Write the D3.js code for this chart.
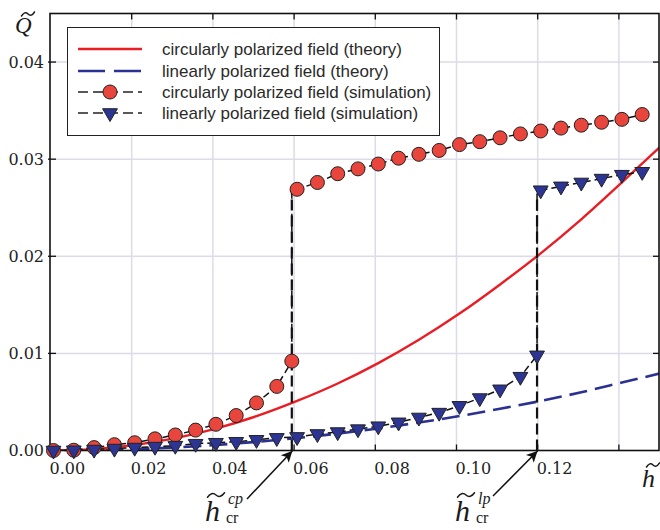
<!DOCTYPE html>
<html>
<head>
<meta charset="utf-8">
<script src="https://cdn.jsdelivr.net/npm/d3@7/dist/d3.min.js"></script>
<style>
  body { margin: 0; background: #fff; }
  svg { display: block; }
</style>
</head>
<body>
<div id="chart"></div>
<script>
//DATA
var simH = [0, 0.005, 0.010, 0.015, 0.020, 0.025, 0.030, 0.035, 0.040, 0.045,
            0.050, 0.055, 0.060, 0.065, 0.070, 0.075, 0.080, 0.085, 0.090, 0.095,
            0.100, 0.105, 0.110, 0.115, 0.120, 0.125, 0.130, 0.135, 0.140, 0.145];

//circularly polarized, simulation (below and above the jump)
var cpLowQ  = [0, 0.00003, 0.0003, 0.0006, 0.0008, 0.0012, 0.0016, 0.0021, 0.0027, 0.0036, 0.0049, 0.0066];
var cpHighQ = [0.0269, 0.0276, 0.0285, 0.0290, 0.0295, 0.0301, 0.0305, 0.0309, 0.0315,
               0.0318, 0.0322, 0.0326, 0.0329, 0.0332, 0.0335, 0.0338, 0.0341, 0.0346];
var cpCrit  = [0.0587, 0.0092, 0.0265];   // h_cr, Q below, Q above

//linearly polarized, simulation
var lpLowQ  = [0, 0.00002, 0.0001, 0.0002, 0.0003, 0.0004, 0.0005, 0.0007, 0.0008, 0.0009,
               0.0011, 0.0013, 0.0014, 0.0017, 0.0019, 0.0022, 0.0025, 0.0029, 0.0034, 0.0039,
               0.0046, 0.0054, 0.0063, 0.0076];
var lpHighQ = [0.0268, 0.0272, 0.0276, 0.0280, 0.0284, 0.0287];
var lpCrit  = [0.1191, 0.0098, 0.0264];

//theory curves
var theoryH   = [0, 0.01, 0.02, 0.03, 0.04, 0.05, 0.06, 0.07, 0.08, 0.09, 0.10, 0.11, 0.12, 0.13, 0.14, 0.15];
var cpTheoryQ = [0, 0.00014, 0.00056, 0.00127, 0.00226, 0.00353, 0.0051, 0.0069, 0.0090, 0.0114,
                 0.0141, 0.0171, 0.0203, 0.0238, 0.0276, 0.0315];
var lpTheoryQ = [0, 0.00004, 0.00014, 0.00032, 0.00057, 0.00089, 0.00128, 0.00174, 0.00227, 0.00288,
                 0.00355, 0.0043, 0.0051, 0.0060, 0.0070, 0.0080];

var xTicks = [0, 0.02, 0.04, 0.06, 0.08, 0.10, 0.12, 0.14];
var xTickLabels = ['0.00', '0.02', '0.04', '0.06', '0.08', '0.10', '0.12', ''];
var yTicks = [0, 0.01, 0.02, 0.03, 0.04];
var yTickLabels = ['0.00', '0.01', '0.02', '0.03', '0.04'];

var legendLabels = ['circularly polarized field (theory)',
                    'linearly polarized field (theory)',
                    'circularly polarized field (simulation)',
                    'linearly polarized field (simulation)'];

(function(){

//SET UP
var width = 660,
    height = 530;

var plotLeft = 50, plotRight = 659, plotTop = 13.5, plotBottom = 450.5;

var serif = 'Times New Roman, Liberation Serif, DejaVu Serif, serif',
    tickFont = 'DejaVu Serif, Liberation Serif, serif',
    sans = 'Liberation Sans, Arial, sans-serif';

var red = '#ea1c24',
    blue = '#2b3192',
    dotRed = '#e8453c',
    triBlue = '#2c3594',
    gridColor = '#dcdbe8';

//grid in the original sits a few px left of the data positions
var gridShift = -3;

var svg = d3.select('#chart').append('svg')
    .attr('width', width)
    .attr('height', height);

var x = d3.scaleLinear()
    .domain([-0.00086, 0.14914])
    .range([plotLeft, plotRight]);

var y = d3.scaleLinear()
    .domain([0, 0.045])
    .range([plotBottom, plotTop]);

svg.append('clipPath').attr('id', 'plot-clip')
  .append('rect')
    .attr('x', plotLeft).attr('y', plotTop)
    .attr('width', plotRight - plotLeft).attr('height', plotBottom - plotTop);

//GRID
svg.append('g').selectAll('line')
    .data(xTicks.slice(1))
  .enter().append('line')
    .attr('x1', function(d){ return x(d) + gridShift; })
    .attr('x2', function(d){ return x(d) + gridShift; })
    .attr('y1', plotTop).attr('y2', plotBottom)
    .style('stroke', gridColor).style('stroke-width', 1.5);

svg.append('g').selectAll('line')
    .data(yTicks.slice(1))
  .enter().append('line')
    .attr('x1', plotLeft).attr('x2', plotRight)
    .attr('y1', function(d){ return y(d); })
    .attr('y2', function(d){ return y(d); })
    .style('stroke', gridColor).style('stroke-width', 1.5);

//THEORY CURVES
var theoryLine = d3.line()
    .x(function(d){ return x(d[0]); })
    .y(function(d){ return y(d[1]); })
    .curve(d3.curveMonotoneX);

svg.append('path')
    .datum(d3.zip(theoryH, lpTheoryQ))
    .attr('clip-path', 'url(#plot-clip)')
    .attr('d', theoryLine)
    .style('fill', 'none').style('stroke', blue)
    .style('stroke-width', 2.6).style('stroke-dasharray', '18,8');

svg.append('path')
    .datum(d3.zip(theoryH, cpTheoryQ))
    .attr('clip-path', 'url(#plot-clip)')
    .attr('d', theoryLine)
    .style('fill', 'none').style('stroke', red)
    .style('stroke-width', 2.4);

//FRAME + TICKS
svg.append('rect')
    .attr('x', plotLeft).attr('y', plotTop)
    .attr('width', plotRight - plotLeft).attr('height', plotBottom - plotTop)
    .style('fill', 'none').style('stroke', '#111').style('stroke-width', 1.6);

var tickLen = 6;
var ticksG = svg.append('g').style('stroke', '#111').style('stroke-width', 1.3);

xTicks.slice(1).forEach(function(t){
  var px = x(t) + gridShift;
  ticksG.append('line').attr('x1', px).attr('x2', px).attr('y1', plotBottom).attr('y2', plotBottom - tickLen);
  ticksG.append('line').attr('x1', px).attr('x2', px).attr('y1', plotTop).attr('y2', plotTop + tickLen);
});
yTicks.slice(1).forEach(function(t){
  var py = y(t);
  ticksG.append('line').attr('x1', plotLeft - 2).attr('x2', plotLeft + tickLen).attr('y1', py).attr('y2', py);
  ticksG.append('line').attr('x1', plotRight).attr('x2', plotRight - tickLen).attr('y1', py).attr('y2', py);
});

//tick labels (left aligned at the grid line, like the original)
svg.append('g').selectAll('text')
    .data(xTicks)
  .enter().append('text')
    .attr('x', function(d){ return x(d) + gridShift - 1; })
    .attr('y', 474)
    .attr('font-family', tickFont).attr('font-size', 16).attr('fill', '#222')
    .text(function(d, i){ return xTickLabels[i]; });

svg.append('g').selectAll('text')
    .data(yTicks)
  .enter().append('text')
    .attr('text-anchor', 'end')
    .attr('x', 44)
    .attr('y', function(d){ return y(d) + 5.5; })
    .attr('font-family', tickFont).attr('font-size', 16).attr('fill', '#222')
    .text(function(d, i){ return yTickLabels[i]; });

//SIMULATION LINES
var simLine = d3.line()
    .x(function(d){ return x(d[0]); })
    .y(function(d){ return y(d[1]); });

function simPoints(lowQ, highQ, crit) {
  var low = d3.zip(simH.slice(0, lowQ.length), lowQ);
  var high = d3.zip(simH.slice(simH.length - highQ.length), highQ);
  return { low: low, high: high,
           all: low.concat([[crit[0], crit[1]], [crit[0], crit[2]]]).concat(high),
           crit: [crit[0], crit[1]] };
}

var cp = simPoints(cpLowQ, cpHighQ, cpCrit),
    lp = simPoints(lpLowQ, lpHighQ, lpCrit);

[cp, lp].forEach(function(s){
  svg.append('path')
      .datum(s.all)
      .attr('d', simLine)
      .style('fill', 'none').style('stroke', '#111')
      .style('stroke-width', 1.5).style('stroke-dasharray', '7,4');
});

//vertical dashed lines at the critical field
[cpCrit, lpCrit].forEach(function(c){
  svg.append('line')
      .attr('x1', x(c[0])).attr('x2', x(c[0]))
      .attr('y1', y(0)).attr('y2', y(c[2]))
      .style('stroke', '#111').style('stroke-width', 2.2)
      .style('stroke-dasharray', '11,5');
});

//MARKERS
var triangle = d3.symbol().type(d3.symbolTriangle).size(95);

var markers = svg.append('g');
markers.append('g').selectAll('circle')
    .data(cp.low.concat([cp.crit]).concat(cp.high))
  .enter().append('circle')
    .attr('cx', function(d){ return x(d[0]); })
    .attr('cy', function(d){ return y(d[1]); })
    .attr('r', 7)
    .style('fill', dotRed).style('stroke', '#222').style('stroke-width', 1);

markers.append('g').selectAll('path')
    .data(lp.low.concat([lp.crit]).concat(lp.high))
  .enter().append('path')
    .attr('d', triangle)
    .attr('transform', function(d){ return 'translate(' + x(d[0]) + ',' + y(d[1]) + ') rotate(180)'; })
    .style('fill', triBlue).style('stroke', '#222').style('stroke-width', 1);

//LEGEND
var legend = svg.append('g');
legend.append('rect')
    .attr('x', 67.5).attr('y', 27.5)
    .attr('width', 372).attr('height', 108)
    .style('fill', '#fff').style('stroke', '#222').style('stroke-width', 1);

var rowY = [49, 71, 92, 113];
var sx0 = 78, sx1 = 142;

legend.append('line').attr('x1', sx0).attr('x2', sx1).attr('y1', rowY[0]).attr('y2', rowY[0])
    .style('stroke', red).style('stroke-width', 2.4);
legend.append('line').attr('x1', sx0).attr('x2', sx1).attr('y1', rowY[1]).attr('y2', rowY[1])
    .style('stroke', blue).style('stroke-width', 2.6).style('stroke-dasharray', '27,9');
[2, 3].forEach(function(i){
  legend.append('line').attr('x1', sx0).attr('x2', sx1).attr('y1', rowY[i]).attr('y2', rowY[i])
      .style('stroke', '#222').style('stroke-width', 1.6).style('stroke-dasharray', '10,5');
});
legend.append('circle').attr('cx', 110).attr('cy', rowY[2]).attr('r', 7)
    .style('fill', dotRed).style('stroke', '#222').style('stroke-width', 1);
legend.append('path').attr('d', triangle)
    .attr('transform', 'translate(110,' + rowY[3] + ') rotate(180)')
    .style('fill', triBlue).style('stroke', '#222').style('stroke-width', 1);

legend.selectAll('text')
    .data(legendLabels)
  .enter().append('text')
    .attr('x', 162)
    .attr('y', function(d, i){ return rowY[i] + 6; })
    .attr('font-family', sans).attr('font-size', 17).attr('fill', '#2a2a2a')
    .text(function(d){ return d; });

//AXIS LABELS + ANNOTATIONS
function tilde(cx, cy, w, a) {
  var x0 = cx - w / 2;
  svg.append('path')
      .attr('d', 'M' + x0 + ',' + (cy + a) +
                 ' Q' + (x0 + w / 4) + ',' + (cy - a * 1.6) + ' ' + (x0 + w / 2) + ',' + cy +
                 ' T' + (x0 + w) + ',' + (cy - a))
      .style('fill', 'none').style('stroke', '#1a1a1a')
      .style('stroke-width', 1.5).style('stroke-linecap', 'round');
}

function mathText(tx, ty, size, italic, str) {
  svg.append('text')
      .attr('x', tx).attr('y', ty)
      .attr('font-family', serif).attr('font-size', size)
      .attr('font-style', italic ? 'italic' : 'normal').attr('fill', '#1a1a1a')
      .text(str);
}

mathText(15, 33, 23, true, 'Q');
tilde(28, 14, 13, 2);

mathText(642, 487, 26, true, 'h');
tilde(653, 465, 13, 2);

function critLabel(lx, sup) {
  mathText(lx, 521, 30, true, 'h');
  tilde(lx + 11, 495, 17, 2.3);
  mathText(lx + 23, 504, 16, true, sup);
  mathText(lx + 21, 523, 16, false, 'cr');
}
critLabel(205, 'cp');
critLabel(455, 'lp');

//arrows
svg.append('defs').append('marker')
    .attr('id', 'arrow')
    .attr('viewBox', '0 0 10 10')
    .attr('refX', 10).attr('refY', 5)
    .attr('markerWidth', 17).attr('markerHeight', 11)
    .attr('markerUnits', 'userSpaceOnUse')
    .attr('orient', 'auto')
  .append('path')
    .attr('d', 'M0,0 L10,5 L0,10 L2.5,5 Z')
    .style('fill', '#111');

[[cpCrit[0], 247, 499], [lpCrit[0], 493, 496]].forEach(function(a){
  svg.append('line')
      .attr('x1', a[1]).attr('y1', a[2])
      .attr('x2', x(a[0]) + 0.5).attr('y2', y(0) + 0.5)
      .attr('marker-end', 'url(#arrow)')
      .style('stroke', '#111').style('stroke-width', 1.5);
});

})();
</script>
</body>
</html>
